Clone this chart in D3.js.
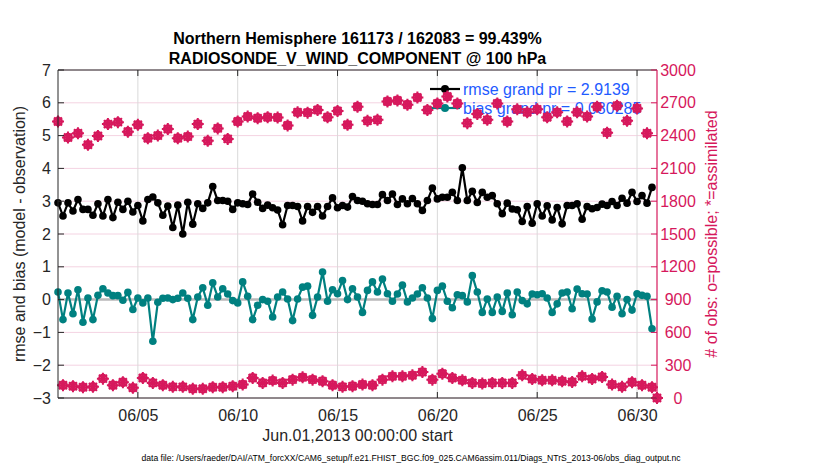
<!DOCTYPE html>
<html>
<head>
<meta charset="utf-8">
<script src="https://cdn.jsdelivr.net/npm/d3@7"></script>
<style>
  html, body { margin: 0; padding: 0; background: #fff; }
  svg { display: block; font-family: "Liberation Sans", Arial, Helvetica, sans-serif; }
</style>
</head>
<body>
<svg id="chart" width="830" height="470"></svg>
<script>
// ---------------- data ----------------
const titleLines = ["Northern Hemisphere 161173 / 162083 = 99.439%", "RADIOSONDE_V_WIND_COMPONENT @ 100 hPa"];
const startTime = "2013-06-01T00:00:00Z";
const endTime = "2013-07-01T00:00:00Z";
const binHours = 6;
const xTickDates = ["2013-06-05", "2013-06-10", "2013-06-15", "2013-06-20", "2013-06-25", "2013-06-30"];
const xTickLabels = ["06/05", "06/10", "06/15", "06/20", "06/25", "06/30"];
const leftTicks = [-3, -2, -1, 0, 1, 2, 3, 4, 5, 6, 7];
const rightTicks = [0, 300, 600, 900, 1200, 1500, 1800, 2100, 2400, 2700, 3000];

// rmse (model - observation), 6-hourly bins
const rmse = [
  2.95, 2.55, 2.95, 2.7, 3.05, 2.75, 2.75, 2.57, 2.92, 2.55, 3.05, 2.5, 2.97, 2.75, 3.0, 2.67, 2.87, 2.4, 3.05, 3.13,
  2.95, 2.57, 2.85, 2.2, 2.88, 2.0, 2.97, 2.3, 2.92, 2.78, 2.95, 3.45, 3.02, 3.02, 3.0, 2.75, 2.95, 2.92, 2.9, 3.22,
  2.97, 2.78, 2.88, 2.8, 2.73, 2.28, 2.87, 2.87, 2.84, 2.4, 2.84, 2.66, 2.84, 2.55, 2.84, 3.1, 2.8, 2.87, 2.82, 3.14,
  3.02, 3.0, 2.92, 2.9, 2.9, 3.2, 3.02, 3.22, 2.9, 3.07, 2.92, 3.08, 2.92, 2.72, 3.02, 3.4, 3.07, 3.12, 3.12, 3.27,
  3.02, 4.02, 3.02, 3.3, 2.96, 3.27, 3.12, 3.17, 2.92, 2.62, 2.94, 2.76, 2.74, 2.38, 2.84, 2.33, 2.92, 2.55, 2.86, 2.43,
  2.81, 2.31, 2.87, 2.87, 2.92, 2.45, 2.84, 2.77, 2.81, 2.91, 2.87, 2.99, 2.87, 3.09, 2.94, 3.27, 2.99, 3.17, 2.94, 3.42
];
// bias (model - observation), 6-hourly bins
const bias = [
  0.23, -0.61, 0.2, -0.43, 0.3, -0.69, 0.05, -0.61, 0.13, 0.33, 0.2, 0.12, 0.12, -0.02, 0.22, -0.3, 0.05, -0.1, 0.05, -1.27,
  -0.08, 0.04, 0.05, 0.0, 0.04, 0.2, 0.04, -0.61, 0.08, 0.36, -0.17, 0.51, 0.08, 0.33, 0.17, -0.03, -0.1, 0.54, 0.1, -0.61,
  -0.17, 0.0, -0.05, -0.53, 0.08, 0.23, 0.02, -0.64, 0.02, 0.38, 0.41, -0.48, 0.08, 0.84, -0.05, 0.3, 0.18, 0.58, 0.0, 0.33,
  0.08, -0.39, 0.28, 0.54, 0.23, 0.63, 0.18, -0.05, 0.17, 0.44, -0.07, 0.05, 0.17, 0.36, 0.05, -0.58, 0.28, 0.41, -0.05, -0.25,
  0.15, 0.12, -0.07, 0.73, 0.23, -0.39, 0.02, -0.39, 0.08, -0.36, 0.2, -0.46, 0.23, -0.03, -0.13, 0.17, 0.15, 0.18, 0.05, -0.39,
  -0.13, 0.2, 0.23, -0.28, 0.32, 0.18, 0.17, -0.59, -0.07, 0.27, 0.23, -0.23, 0.1, -0.43, 0.0, -0.32, 0.18, 0.13, 0.1, -0.89
];
// # of obs possible, 6-hourly bins (last bin = Jul 1 00Z)
const obsPossible = [
  2529, 117, 2382, 108, 2421, 99, 2316, 102, 2397, 177, 2505, 117, 2523, 144, 2436, 93, 2499, 183, 2376, 138,
  2400, 117, 2460, 102, 2376, 102, 2391, 84, 2505, 84, 2352, 99, 2466, 99, 2370, 108, 2529, 123, 2574, 183,
  2559, 138, 2568, 159, 2565, 138, 2493, 168, 2613, 189, 2610, 168, 2634, 153, 2568, 117, 2625, 102, 2499, 108,
  2664, 123, 2535, 117, 2544, 168, 2712, 198, 2721, 198, 2682, 207, 2748, 237, 2634, 168, 2694, 222, 2757, 183,
  2694, 162, 2514, 138, 2598, 132, 2544, 138, 2694, 138, 2529, 138, 2640, 207, 2613, 174, 2640, 162, 2568, 162,
  2613, 153, 2529, 147, 2613, 198, 2574, 174, 2664, 192, 2427, 123, 2673, 102, 2535, 144, 2649, 117, 2421, 99,
  0
];
// # of obs assimilated (99.4% of possible; indistinguishable at this scale)
const obsAssimilated = [
  2529, 117, 2382, 108, 2421, 99, 2316, 102, 2397, 177, 2505, 117, 2523, 144, 2436, 93, 2499, 183, 2376, 138,
  2400, 117, 2460, 102, 2376, 102, 2391, 84, 2505, 84, 2352, 99, 2466, 99, 2370, 108, 2529, 123, 2574, 183,
  2559, 138, 2568, 159, 2565, 138, 2493, 168, 2613, 189, 2610, 168, 2634, 153, 2568, 117, 2625, 102, 2499, 108,
  2664, 123, 2535, 117, 2544, 168, 2712, 198, 2721, 198, 2682, 207, 2748, 237, 2634, 168, 2694, 222, 2757, 183,
  2694, 162, 2514, 138, 2598, 132, 2544, 138, 2694, 138, 2529, 138, 2640, 207, 2613, 174, 2640, 162, 2568, 162,
  2613, 153, 2529, 147, 2613, 198, 2574, 174, 2664, 192, 2427, 123, 2673, 102, 2535, 144, 2649, 117, 2421, 99,
  0
];
const legendLabels = ["rmse grand pr = 2.9139", "bias grand pr = 0.080285"];
const xLabel = "Jun.01,2013 00:00:00 start";
const yLabelLeft = "rmse and bias (model - observation)";
const yLabelRight = "# of obs: o=possible; *=assimilated";
const fileNote = "data file: /Users/raeder/DAI/ATM_forcXX/CAM6_setup/f.e21.FHIST_BGC.f09_025.CAM6assim.011/Diags_NTrS_2013-06/obs_diag_output.nc";

// ---------------- layout / style ----------------
const L = 58, R = 657, T = 70, B = 398;
const cAxis = "#262626", cPink = "#d6185c", cTeal = "#008080", cBlue = "#1f5bff";

const svg = d3.select("#chart");
svg.append("rect").attr("width", 830).attr("height", 470).attr("fill", "#fff");

const t0 = new Date(startTime), t1 = new Date(endTime);
const times = d3.utcHour.every(binHours).range(t0, new Date(+t1 + 1));
const x = d3.scaleUtc().domain([t0, t1]).range([L, R]);
const yL = d3.scaleLinear().domain([-3, 7]).range([B, T]);
const yR = d3.scaleLinear().domain([0, 3000]).range([B, T]);
const xTicks = xTickDates.map(s => new Date(s + "T00:00:00Z"));

// grid
const g = svg.append("g");
g.selectAll("line.hg").data(leftTicks).join("line")
  .attr("x1", L).attr("x2", R).attr("y1", d => yL(d)).attr("y2", d => yL(d))
  .attr("stroke", "#f4d3e2").attr("stroke-width", 1);
g.selectAll("line.vg").data(xTicks).join("line")
  .attr("x1", d => x(d)).attr("x2", d => x(d)).attr("y1", T).attr("y2", B)
  .attr("stroke", "#d9d9d9").attr("stroke-width", 1);
// zero line
g.append("line").attr("x1", L).attr("x2", R).attr("y1", yL(0)).attr("y2", yL(0))
  .attr("stroke", "#b9b9b9").attr("stroke-width", 2.5);

// series
function drawSeries(vals, color) {
  const pts = vals.map((v, i) => [times[i], v]);
  svg.append("path").datum(pts)
    .attr("fill", "none").attr("stroke", color).attr("stroke-width", 2.2)
    .attr("stroke-linejoin", "round")
    .attr("d", d3.line().x(d => x(d[0])).y(d => yL(d[1])));
  svg.append("g").selectAll("circle").data(pts).join("circle")
    .attr("cx", d => x(d[0])).attr("cy", d => yL(d[1])).attr("r", 3.8).attr("fill", color);
}
drawSeries(rmse, "#000");
drawSeries(bias, cTeal);

// legend
const leg = svg.append("g");
[["#000", 89], [cTeal, 108]].forEach(([c, yy], i) => {
  leg.append("line").attr("x1", 430).attr("x2", 460).attr("y1", yy).attr("y2", yy)
    .attr("stroke", c).attr("stroke-width", 2.2);
  leg.append("circle").attr("cx", 445).attr("cy", yy).attr("r", 4).attr("fill", c);
  leg.append("text").attr("x", 463).attr("y", yy + 6).attr("font-size", 16)
    .attr("fill", cBlue).text(legendLabels[i]);
});

// obs count markers (o = possible, * = assimilated)
const mk = svg.append("g");
const possPts = obsPossible.map((v, i) => [times[i], v]);
const assimPts = obsAssimilated.map((v, i) => [times[i], v]);
mk.selectAll("circle").data(possPts).join("circle")
  .attr("cx", d => x(d[0])).attr("cy", d => yR(d[1])).attr("r", 3.8)
  .attr("fill", "none").attr("stroke", cPink).attr("stroke-width", 2.2);
const starPath = "M-6,0H6M0,-6V6M-4,-4L4,4M-4,4L4,-4";
mk.selectAll("path").data(assimPts).join("path")
  .attr("transform", d => `translate(${x(d[0])},${yR(d[1])})`)
  .attr("d", starPath).attr("stroke", cPink).attr("stroke-width", 2).attr("fill", "none");

// axes frame
svg.append("line").attr("x1", L).attr("x2", R).attr("y1", T).attr("y2", T).attr("stroke", cAxis).attr("stroke-width", 1);
svg.append("line").attr("x1", L).attr("x2", R).attr("y1", B).attr("y2", B).attr("stroke", cAxis).attr("stroke-width", 1);
svg.append("line").attr("x1", L).attr("x2", L).attr("y1", T).attr("y2", B).attr("stroke", cAxis).attr("stroke-width", 1);
svg.append("line").attr("x1", R).attr("x2", R).attr("y1", T).attr("y2", B).attr("stroke", cPink).attr("stroke-width", 1.2);

// bottom axis
const xAxis = d3.axisBottom(x).tickValues(xTicks).tickSize(0).tickPadding(12)
  .tickFormat((d, i) => xTickLabels[i]);
const gx = svg.append("g").attr("transform", `translate(0,${B})`).call(xAxis);
gx.select(".domain").remove();
gx.selectAll("text").attr("font-size", 16).attr("fill", cAxis).attr("font-family", "Liberation Sans, Arial, sans-serif");
svg.append("g").selectAll("line").data(xTicks).join("line")
  .attr("x1", d => x(d)).attr("x2", d => x(d)).attr("y1", B).attr("y2", B - 6)
  .attr("stroke", cAxis);
svg.append("g").selectAll("line").data(xTicks).join("line")
  .attr("x1", d => x(d)).attr("x2", d => x(d)).attr("y1", T).attr("y2", T + 6)
  .attr("stroke", cAxis);

// left axis
const yAxisL = d3.axisLeft(yL).tickValues(leftTicks).tickSize(0).tickPadding(7).tickFormat(d3.format("d"));
const gyl = svg.append("g").attr("transform", `translate(${L},0)`).call(yAxisL);
gyl.select(".domain").remove();
gyl.selectAll("text").attr("font-size", 16).attr("fill", cAxis).attr("font-family", "Liberation Sans, Arial, sans-serif");
svg.append("g").selectAll("line").data(leftTicks).join("line")
  .attr("x1", L).attr("x2", L + 6).attr("y1", d => yL(d)).attr("y2", d => yL(d)).attr("stroke", cAxis);

// right axis
const yAxisR = d3.axisRight(yR).tickValues(rightTicks).tickSize(0).tickPadding(21).tickFormat(d3.format("d"));
const gyr = svg.append("g").attr("transform", `translate(${R},0)`).call(yAxisR);
gyr.select(".domain").remove();
gyr.selectAll("text").attr("font-size", 16).attr("fill", cPink).attr("text-anchor", "middle")
  .attr("font-family", "Liberation Sans, Arial, sans-serif");
svg.append("g").selectAll("line").data(rightTicks).join("line")
  .attr("x1", R - 6).attr("x2", R).attr("y1", d => yR(d)).attr("y2", d => yR(d)).attr("stroke", cPink);

// labels
svg.append("text").attr("x", 357.5).attr("y", 44).attr("text-anchor", "middle")
  .attr("font-size", 16).attr("font-weight", "bold").attr("fill", "#000").text(titleLines[0]);
svg.append("text").attr("x", 357.5).attr("y", 64).attr("text-anchor", "middle")
  .attr("font-size", 16).attr("font-weight", "bold").attr("fill", "#000").text(titleLines[1]);
svg.append("text").attr("x", 357.5).attr("y", 441).attr("text-anchor", "middle")
  .attr("font-size", 16).attr("fill", cAxis).text(xLabel);
svg.append("text").attr("transform", `translate(25,${(T + B) / 2}) rotate(-90)`).attr("text-anchor", "middle")
  .attr("font-size", 16).attr("fill", cAxis).text(yLabelLeft);
svg.append("text").attr("transform", `translate(717,${(T + B) / 2}) rotate(-90)`).attr("text-anchor", "middle")
  .attr("font-size", 16).attr("fill", cPink).text(yLabelRight);
svg.append("text").attr("x", 411).attr("y", 461).attr("text-anchor", "middle")
  .attr("font-size", 8.6).attr("fill", "#000").text(fileNote);
</script>
</body>
</html>
